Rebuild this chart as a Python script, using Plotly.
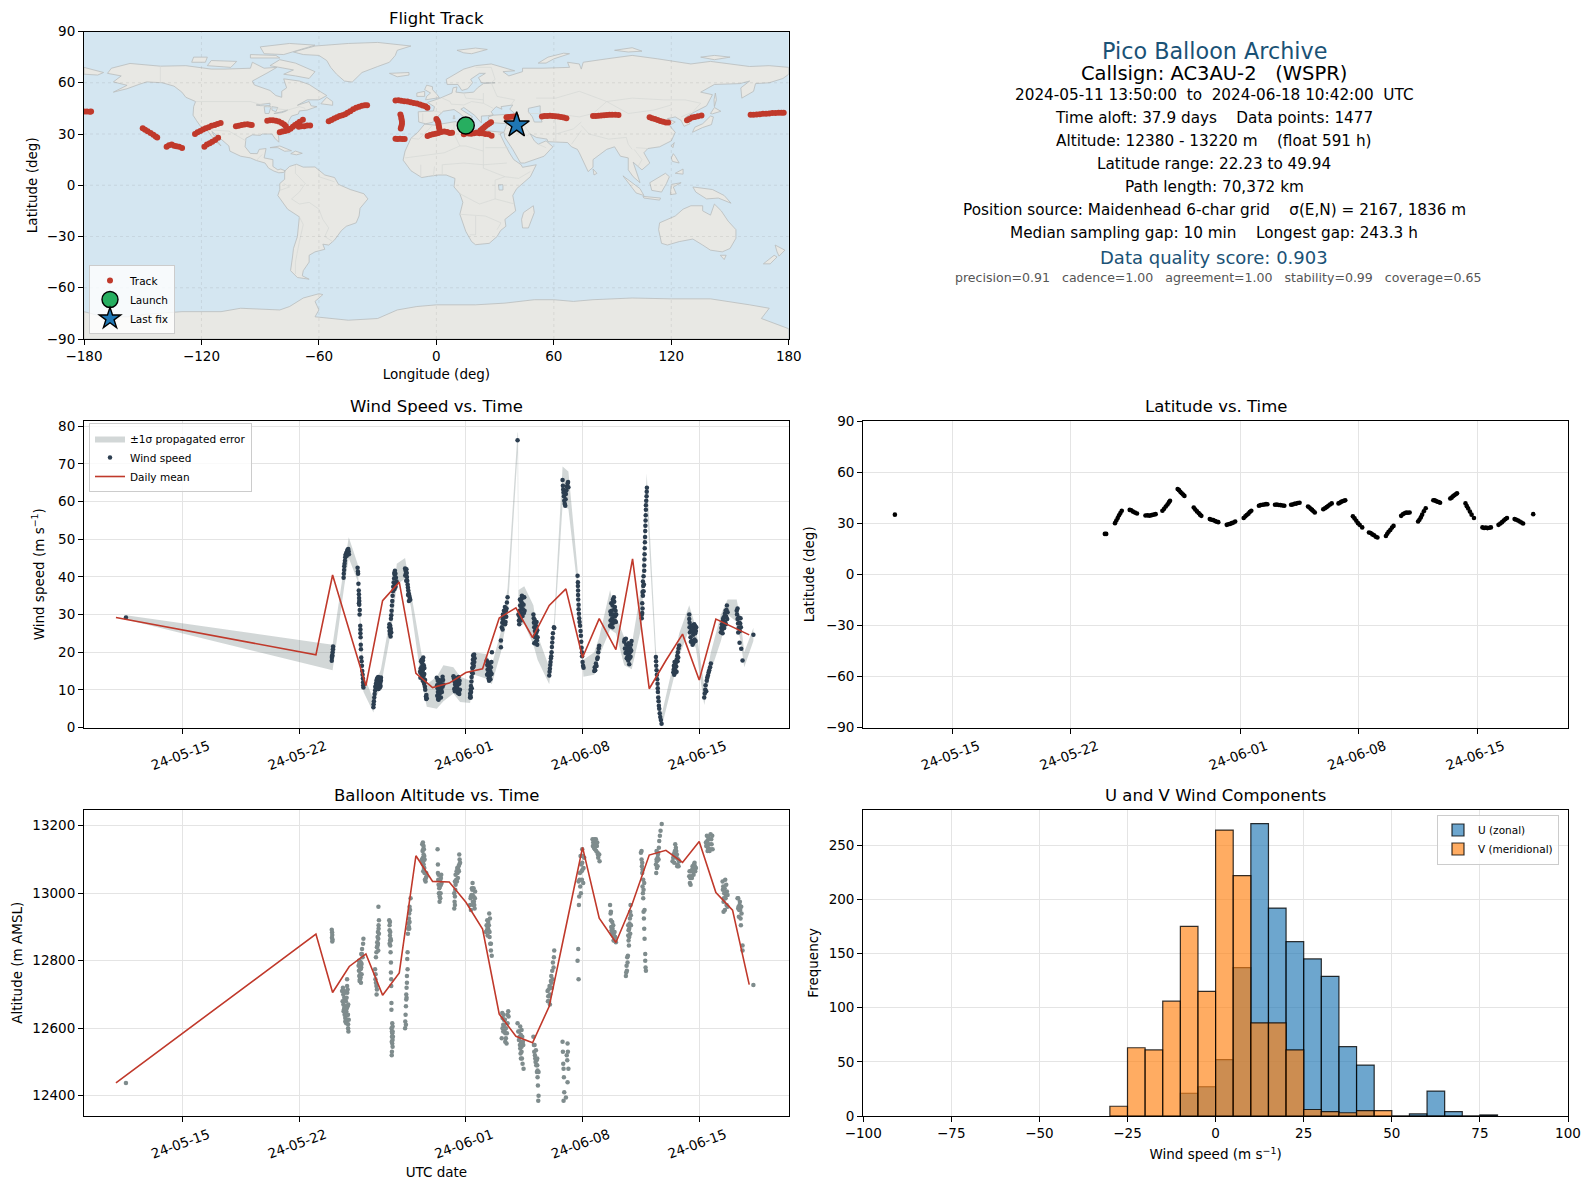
import pandas as pd
import plotly.graph_objects as go

# ---------- layout constants (px in a 1590x1189 page) ----------
W, H = 1590, 1189
COL = [(84.0, 788.8), (863.2, 1568.0)]
ROW = [(31.5, 339.0), (421.0, 727.5), (809.5, 1116.0)]
BASE = pd.Timestamp("2024-05-01")

# ---------- text ----------
panel_titles = ["Flight Track", "Wind Speed vs. Time", "Latitude vs. Time",
                "Balloon Altitude vs. Time", "U and V Wind Components"]
info_lines = [
    ("Pico Balloon Archive", 22.3, "#1a5276"),
    ("Callsign: AC3AU-2   (WSPR)", 19.5, "#000000"),
    ("2024-05-11 13:50:00  to  2024-06-18 10:42:00  UTC", 15.25, "#000000"),
    ("Time aloft: 37.9 days    Data points: 1477", 15.25, "#000000"),
    ("Altitude: 12380 - 13220 m    (float 591 h)", 15.25, "#000000"),
    ("Latitude range: 22.23 to 49.94", 15.25, "#000000"),
    ("Path length: 70,372 km", 15.25, "#000000"),
    ("Position source: Maidenhead 6-char grid    σ(E,N) = 2167, 1836 m", 15.25, "#000000"),
    ("Median sampling gap: 10 min    Longest gap: 243.3 h", 15.25, "#000000"),
    ("Data quality score: 0.903", 18, "#1a5276"),
    ("precision=0.91   cadence=1.00   agreement=1.00   stability=0.99   coverage=0.65", 12.55, "#555555"),
]
info_y = [51, 73.5, 95, 118, 141, 164, 187, 210, 233, 257, 278]
info_x = [1214, 1214, 1214, 1214, 1214, 1214, 1214, 1214, 1214, 1214, 1218]

date_ticks = ["2024-05-15", "2024-05-22", "2024-06-01", "2024-06-08", "2024-06-15"]
date_labels = ["24-05-15", "24-05-22", "24-06-01", "24-06-08", "24-06-15"]
lon_ticks = [-180, -120, -60, 0, 60, 120, 180]
lat_ticks = [-90, -60, -30, 0, 30, 60, 90]

# ---------- map outlines (lon, lat) ----------
north_america = [(-166,68.5),(-156.5,71.3),(-141,69.7),(-128,70),(-115,68),(-108,68),(-95,68.5),(-94,72),(-88,68.5),(-81.5,69),(-86,66),(-94,61),(-93,58.7),(-85,55.5),(-82,52.5),(-79,51.5),(-79,55),(-76.5,57),(-78,62.3),(-70,61),(-65,59),(-61,56),(-56,52.5),(-60,50),(-66,50),(-71,46.8),(-65,49),(-64,46.5),(-61,46),(-66,44),(-70,43.5),(-70.5,41.7),(-74,40.5),(-75.5,37.5),(-76,35),(-81,32),(-80.5,27),(-80.5,25.2),(-82.5,27.5),(-84,30),(-89,30),(-90,29.2),(-94,29.5),(-97.3,27.5),(-97.7,22.5),(-95,18.6),(-91.5,18.5),(-90.5,21),(-87,21.5),(-88,16),(-83.5,15),(-83.5,11),(-81,9),(-79.5,9.5),(-77.3,8.5),(-78,7.5),(-80.5,7.3),(-83,8.3),(-85.7,10),(-87.5,13),(-92,14.5),(-95,16),(-100,17),(-105.5,20),(-106,23),(-109,26),(-112.5,29.5),(-114.7,31.5),(-112.5,27),(-110,23),(-112,25),(-115,29),(-117.3,32.5),(-120.5,34.5),(-122.5,37.8),(-124.3,41),(-124,46),(-123,49),(-128,51.5),(-130,54.5),(-134,58),(-140,60),(-148,60.5),(-152,59),(-158,56.5),(-165,54.5),(-158,58.5),(-165,60.5),(-161,64),(-168,65.5)]
south_america = [(-77.3,8.5),(-75,11),(-71.5,12.3),(-68,10.6),(-62,10.7),(-57,6),(-52,4.5),(-50,0.5),(-44,-2.5),(-37,-5),(-35,-8),(-39,-13.5),(-39.5,-18),(-41,-22),(-46,-24),(-48.5,-26.5),(-52,-32),(-55,-35),(-58,-34.5),(-57,-37.5),(-62,-39),(-65,-41),(-65,-45),(-68,-50),(-68.5,-53),(-65,-55),(-71,-54),(-74.5,-50),(-73.5,-42),(-73,-37),(-71,-30),(-70,-18.5),(-76,-14),(-81,-6),(-80,-2.5),(-80,1),(-77.5,3.5),(-77.5,7)]
africa = [(-6,35.8),(-1,35.2),(10,37.3),(11,33.5),(15,32.4),(20,30.5),(20,32.8),(25,32),(32,31.2),(34.3,31),(32.5,30),(35,24),(37.3,19),(39.5,15),(43.3,12),(44,10.5),(51,12),(48,5),(41,-2),(39,-6),(40.5,-15),(35,-20),(35.5,-24),(32.8,-26.5),(31,-30),(27,-34),(20,-34.8),(18,-33),(15,-27),(12,-17),(13.5,-10),(12,-5),(9,-1),(9.5,4),(5,6),(1,6),(-4,5.2),(-7.5,4.5),(-13,8.5),(-17,14.7),(-16,20),(-13,27.5),(-9.5,31)]
eurasia = [(-9,37),(-9.3,43),(-1.5,43.5),(-1,46),(-4.5,48.5),(1.5,50.8),(8,54),(8.5,57),(10.5,57.5),(10,54.5),(14,54),(19,54.5),(21,57),(24,59.5),(30,60),(23,60),(21.5,63),(25,65.5),(22,65.5),(17.5,62),(18.5,60),(16,56.5),(13,55.5),(11,59),(5.5,59),(5,62),(14,68),(20,70),(28,71),(40,67),(34,66.5),(37,64),(44,66.5),(44,68.5),(54,68.5),(68,69),(67,72),(73,71),(74,68),(75,72),(87,74),(100,76),(113,74),(130,71),(140,72.5),(160,69.5),(170,70),(180,69),(180,65),(177,62.5),(170,60),(163,59.5),(162,55),(156,51),(155.5,57),(160,61),(155,59.5),(142,59),(135,54.5),(141,53),(138,46.5),(132,43),(127.5,40),(129.5,36),(126.5,34.5),(125,38),(122,40),(118,39),(122,37),(119,35),(122,31),(120,26),(114,22.5),(108,21.5),(106,19),(109,13),(105,9),(100.5,13.5),(103,5),(104,1.5),(100.5,5),(98,9),(98,16),(94,17),(91,22.5),(87,21),(80,15),(80,10.5),(77.5,8),(73,19),(72,21),(69,22.5),(67,25),(57,25.5),(56.5,27),(51,28),(48,30),(50,26),(52,24),(56,26),(59.5,22.5),(55,17),(45,13),(43,13),(39,21),(35,28),(34.5,31),(36,36),(30,36.5),(27,37),(26.5,40),(29,41),(36,41.5),(41,41),(37.5,44.5),(39,47),(33,46),(33.5,44.5),(30.5,46),(28,43),(29,41.2),(26,40.7),(23,40.5),(23,36.5),(19.5,41),(14,45.5),(12.5,44.5),(18.5,40),(16,38),(12,42),(9,44.3),(3.5,43.3),(0,39.5),(-2,36.8),(-5.5,36)]
chukotka = [(-180,69),(-170,66),(-173,64.5),(-180,65)]
antarctica = [(-180,-90),(-180,-74),(-170,-77),(-158,-77),(-148,-75.5),(-130,-74),(-110,-74),(-100,-72),(-80,-73),(-75,-71),(-68,-66),(-60,-63.5),(-58,-64),(-62,-68),(-60,-73),(-62,-77),(-45,-79),(-30,-78),(-20,-73),(-10,-71),(0,-70),(20,-70),(35,-69),(50,-67),(60,-67),(70,-68),(80,-67),(100,-66),(120,-66.5),(140,-66.5),(160,-70),(170,-72),(166,-78),(180,-84),(180,-90)]
australia = [(114,-22),(122,-18),(126,-14),(130,-12),(136,-12),(136,-15),(140,-17.5),(142,-11),(145.5,-15),(149,-21),(153,-26),(153,-31),(150,-37),(146,-39),(140,-38),(136,-35),(131,-31.5),(124,-33),(118,-35),(115,-34),(113.5,-26)]
arctic_lands = [
    [(-73,78),(-62,81.5),(-45,83),(-30,83.6),(-13,81.5),(-20,79),(-21,76),(-24,72),(-30,69.5),(-38,66),(-43,60.4),(-47,61),(-51,65),(-54,69),(-56,73),(-60,76),(-68,76.5)],
    [(-80,73.5),(-72,71.5),(-62,66.5),(-65,62.5),(-72,64),(-78,65),(-73,67.5),(-85,70)],
    [(-117,70),(-105,69),(-102,72.5),(-115,73)],
    [(-88,77),(-78,76.5),(-62,82),(-75,83),(-90,81)],
    [(-125,72),(-118,72),(-117,75),(-124,75)],
    [(-95,74.5),(-80,74.5),(-82,76),(-95,76.5)],
    [(-24,65.5),(-14,66),(-14,64.5),(-20,63.5)],
    [(10.5,79),(20,80.3),(26,79.5),(18,77),(14,77.5)],
    [(52,71.5),(56,71.5),(60,74),(68,77),(65,77.3),(57,75)],
    [(91,79),(100,80.5),(105,78.5),(98,78)],
    [(135,75),(142,76),(150,75),(142,73.5)],
]
islands = [
    [(-59,47.7),(-53,46.8),(-53,49),(-56,51.5)],
    [(-85,22),(-80,23),(-74,20.2),(-77.5,19.9),(-81,22)],
    [(-74.4,18.5),(-72,20),(-68.5,18.7),(-71.5,17.8)],
    [(-5.5,50),(1.5,51.3),(0,53.5),(-2,56),(-2,57.7),(-5,58.6),(-6,56),(-3,54),(-5,52)],
    [(-10,52),(-6,52),(-6,55),(-10,54)],
    [(49.5,-12),(50,-16),(47,-25),(44,-25),(43.5,-20),(44.5,-16)],
    [(80,9.5),(82,7),(80.5,6)],
    [(130.8,31),(132,34),(136,36),(140,40.5),(141.5,40),(140.5,35.5),(136,33.8)],
    [(140,42),(142,45.5),(145.3,43.3),(141,41.8)],
    [(142,46),(143,50),(142.5,54),(141.8,50)],
    [(120,23),(121.5,25),(120.8,22)],
    [(120,16),(121,18.5),(122,17),(124,13),(120.5,14)],
    [(122,7),(126,9.5),(126,6.5)],
    [(109,1.5),(117,7),(119,5),(117.5,1),(115,-4),(110,-3)],
    [(95.3,5.5),(104,-2),(106,-6),(102,-4.5)],
    [(105.5,-6.5),(114.5,-7.5),(114,-8.7),(106,-7.5)],
    [(119.5,-5.5),(120,0.5),(125,1.5),(121,-1),(122.5,-5)],
    [(131,-1),(141,-2.5),(147,-6),(150.5,-10.5),(144,-7.5),(138,-8),(132.5,-4)],
    [(145,-41),(148,-41),(147,-43.5)],
    [(173,-35),(178,-38),(175,-41.5),(174,-39)],
    [(172.5,-41),(174,-42),(170.5,-46),(167,-46)],
    [(9,41),(9.5,39),(8.5,39)],
    [(12.5,38),(15.5,38),(15,36.7)],
]
inland_water = [
    [(47,45),(53,46.5),(53,40),(54,37),(50,37),(49,40),(47,43)],
    [(-92,47),(-85,48),(-85,46.6),(-90,46.6)],
    [(-88,46),(-84.5,46),(-85.5,42),(-87.5,42)],
    [(-84,46),(-81,45.5),(-82,43),(-84,44)],
    [(-83,42),(-79,43),(-76,44),(-77,43.3),(-79,42.5)],
    [(31.7,0.3),(34,0.3),(34,-2.8),(32,-2.8)],
]
borders = [
    [(-141,69.7),(-141,60)], [(-123,49),(-95,49),(-83,45),(-76,44),(-70,46),(-67,45)],
    [(-117,32.5),(-106,31.7),(-97.3,26)], [(-92,14.5),(-89,18)],
    [(-72,12),(-72,7),(-67,1),(-70,-4),(-74,-8),(-70,-11),(-65,-10),(-60,-14),(-58,-20),(-55,-25),(-57,-30),(-53,-33)],
    [(-70,-18.5),(-68,-23),(-70,-33),(-72,-45),(-72,-52)], [(-80,-3),(-75,-1),(-78,1)], [(-60,8),(-60,5),(-52,2)],
    [(-2,35),(-9,27),(-13,27.5)], [(9,37),(9,30),(12,23),(15,23),(24,20),(24,30)], [(-16,16),(4,19),(12,23)],
    [(25,22),(37,22)], [(24,20),(24,10),(35,5),(42,4),(48,8)], [(3,6),(3,12),(14,13),(24,12),(36,13)],
    [(12,-5),(22,-11),(30,-8),(40,-11)], [(12,-17),(25,-18),(33,-22),(31,-26)], [(20,-18),(20,-29),(17,-29)],
    [(30,-8),(30,3),(35,5)], [(-8,5),(-8,12)], [(-1.5,5),(-1,11)],
    [(-1.5,43.5),(3,42.5)], [(-7,42),(-7,37)], [(3,51),(7,49),(7.5,47.5),(14,47),(18,49),(24,48),(29,45)],
    [(14,54),(15,51),(24,50)], [(24,54),(24,48)], [(28,60),(31,52),(40,50),(38,47)], [(20,69),(28,69),(30,62),(28,60)],
    [(47,42),(60,42),(73,40),(80,42),(87,49),(100,51),(116,50),(127,50),(135,48),(131,43)], [(51,51),(61,51),(73,55),(87,49)],
    [(60,42),(61,35),(61,25)], [(44,37),(46,33),(48,30)], [(36,33),(42,37),(44,37)], [(39,32),(47,29)], [(52,24),(56,22)],
    [(61,30),(70,33),(74,37)], [(74,35),(78,30),(88,27),(97,28),(98,24),(100,21)], [(69,24),(74,32)], [(102,22),(108,21.5)], [(101,21),(105,15),(103,11)],
    [(87,49),(98,42),(111,44),(120,47)], [(125,40),(130,42.5)],
]

# ---------- track fixes (lon, lat) ----------
track_points = [(-180,43.2),(-178.5,43.1),(-177,43),(-176.4,43.1),
(-150,33.4),(-148.8,32.5),(-147.5,31.6),(-146,30.6),(-144.6,29.6),(-143.4,28.6),(-142.6,28),
(-137.8,22.5),(-136.6,23.4),(-135.2,23.8),(-134,23.1),(-132.8,22.9),(-131.4,22.6),(-129.9,21.8),
(-118.5,22.5),(-117.2,23.8),(-115.8,24.6),(-114.5,25.4),(-113,26.5),(-111.5,27.8),
(-123.3,30),(-122,31),(-120.6,31.8),(-119.2,32.6),(-117.8,33.4),(-116.3,34),(-114.8,34.8),(-113.2,35.3),(-111.8,35.9),(-110.2,36.4),
(-102.4,34.5),(-101,34.8),(-99.5,35.2),(-98,35.6),(-96.5,35.7),(-95.2,35.4),(-94.3,35.2),
(-86.4,37.8),(-85,38),(-83.5,38),(-82,37.8),(-80.5,37.3),(-79,36.5),(-77.8,35.6),(-76.9,34.6),
(-80,31),(-78.6,31.4),(-77.2,31.8),(-75.8,32.2),(-74.5,33),(-73.3,34.2),(-72.2,35.2),(-71,36.2),(-69.8,37.2),(-68.2,38.3),
(-70.3,34.2),(-69,34.6),(-67.5,34.5),(-66,35),(-64.5,35),
(-55,37.4),(-53.6,38.2),(-52.2,39),(-50.8,39.8),(-49.4,40.5),(-48,41),(-46.6,41.6),(-45.4,42.4),(-44,43.3),
(-42.5,44.5),(-41,45.4),(-39.5,46),(-38,46.6),(-36.6,46.8),(-35.4,46.9),
(-20.9,49.6),(-19.4,49.7),(-18,49.5),(-16.4,49.2),(-14.8,49),(-13.2,48.6),(-11.6,48.2),(-10,47.8),(-8.4,47.2),(-7,46.7),(-5.6,46.2),(-4.6,45.4),
(-18.4,41.4),(-18,40),(-17.8,38.6),(-17.6,37.2),(-17.6,35.8),(-17.9,34.5),(-18.2,33.2),
(-20.9,27.2),(-19.8,27.1),(-18.6,27.2),(-17.4,27),(-16.2,27.1),
(0,38.8),(0.6,37.8),(1,36.6),(1.1,35.4),(1.3,34.2),(1.5,33.1),
(-4.5,28.9),(-3.2,29.4),(-1.8,29.9),(-0.4,30.2),(1,30.6),(2.5,31.2),(4,31.4),(5.5,31.1),(6.8,30.6),(8,30.8),
(14,29.9),(15.2,30.4),(16.5,30.3),(17.8,30.1),(19.2,30.4),(20.5,30.8),(22,30.5),(23.4,30.4),(25,30),(26.6,29.8),(28.2,29),
(22.5,32),(23.4,32.9),(24.2,33.6),(25,34.6),(26,35.4),(27,36.2),(27.9,36.9),
(35.8,39.8),(37,39.9),(38.2,40.1),(39.4,40.3),(40.6,40.2),
(53.9,40.3),(55.2,40.5),(56.6,40.6),(58,40.7),(59.4,40.6),(60.8,40.4),(62.2,40.2),(63.6,40),(65,39.7),(66.4,39.2),
(80,40.6),(81.4,40.6),(82.8,40.7),(84.2,40.8),(85.6,41),(87,41.1),(88.4,41.2),(89.8,41.2),(91.4,41.3),(93,41.1),
(108.9,39.8),(110.2,39.2),(111.6,38.8),(113,38.2),(114.4,37.6),(115.8,37.2),(117.2,36.8),(118.4,36.7),
(128,38),(129.2,38.8),(130.6,39.6),(132,40),(133.6,40.4),(135.4,40.9),
(160.5,41.2),(162,41.3),(163.6,41.4),(165.2,41.6),(166.8,41.8),(168.4,41.9),(170,42),(171.6,42.3),(173.2,42.3),(174.8,42.4),(176.2,42.5),(177.4,42.4)]
launch_point = (15, 35)
last_fix_point = (41, 35.2)

# ---------- wind speed fixes (days since 1 May, m/s) ----------
wind_points = [(10.6,29.2),
(22.95,17.7),(22.96,18.5),(22.98,19.2),(23.0,20),(23.02,20.8),(23.03,21.5),(22.97,18.9),
(23.66,39.8),(23.67,40.8),(23.69,41.8),(23.7,42.8),(23.72,43.5),(23.74,44.3),(23.76,45.2),(23.78,45.8),(23.8,46),(23.83,46.4),(23.85,45.6),(23.87,46.8),(23.9,47.2),(23.92,46.5),(23.94,47.4),(23.96,46.8),(23.98,46),
(24.5,42.4),(24.52,41.4),(24.53,40.8),(24.55,38.2),(24.57,36.4),(24.58,35.4),(24.59,34.4),(24.6,33.6),(24.58,33),(24.6,32.6),(24.63,31.2),(24.62,30),(24.66,27),(24.67,26),(24.67,25),(24.68,24),(24.69,22),(24.7,20.8),(24.72,18.6),(24.74,17.6),(24.76,16.4),(24.78,15),(24.8,14),(24.82,13),(24.83,12),(24.84,11.2),(24.85,10.6),
(25.45,5.4),(25.46,6.2),(25.48,7),(25.5,8),(25.52,8.9),(25.55,9.8),(25.56,10.8),(25.6,11.6),(25.63,12.4),(25.66,12.9),(25.7,13.2),(25.72,11.2),(25.75,12),(25.78,13),(25.8,11.3),(25.83,12.6),(25.86,11.8),(25.88,11),(25.9,12.4),(25.9,13.3),
(26.4,26.6),(26.42,25.6),(26.44,24.8),(26.46,25.8),(26.48,24.2),(26.5,28.9),(26.52,29.8),(26.54,31),(26.56,32.4),(26.58,33.6),(26.6,35),(26.62,36.2),(26.64,37.4),(26.66,38.5),(26.69,39.6),(26.72,40.6),(26.74,41.6),(26.77,40.8),(26.8,39.8),(26.84,38.8),
(27.35,42.2),(27.38,41.6),(27.4,40.8),(27.43,42),(27.46,40),(27.48,39),(27.5,38),(27.52,37.2),(27.54,36.4),(27.57,35.6),(27.6,35),(27.63,34.4),(27.66,33.9),
(28.25,14.8),(28.28,15.6),(28.3,14.4),(28.33,16),(28.36,13.4),(28.38,17),(28.4,15),(28.42,17.8),(28.44,18.6),(28.46,13.8),(28.48,12.8),(28.5,14.2),(28.52,12),(28.54,10.8),(28.56,10),(28.62,7.6),(28.65,7.8),
(29.25,13.2),(29.27,11.2),(29.3,10.4),(29.32,9.4),(29.34,8.6),(29.36,7.4),(29.38,10),(29.4,9),(29.44,12),(29.46,10.8),(29.5,8),(29.54,11.5),(29.58,12.6),(29.6,13.5),(29.63,12.6),
(30.25,13.6),(30.28,13),(30.32,12.2),(30.35,11.4),(30.38,10.6),(30.42,12.6),(30.46,10.2),(30.5,9.2),(30.54,11.6),(30.58,9.2),(30.6,8.9),(30.64,10),
(31.25,8),(31.26,9),(31.27,8.4),(31.28,10),(31.3,11),(31.33,12.2),(31.34,13.4),(31.36,14.6),(31.38,15.8),(31.4,17),(31.42,18),(31.44,19.2),(31.47,16.4),(31.5,17.4),(31.52,18.4),
(32.25,17.8),(32.28,16.6),(32.3,15.4),(32.33,14.4),(32.36,13),(32.38,15.6),(32.42,13.6),(32.46,15),(32.5,16),(32.54,14.2),(32.56,20),
(33.1,21.3),(33.1,23.1),(33.15,26.6),(33.18,27.8),(33.2,28.8),(33.22,30),(33.25,29),(33.28,31),(33.31,30),(33.34,32),(33.38,28),(33.42,29.4),(33.46,33.2),(33.5,34.6),
(34.1,76.3),
(34.15,30),(34.18,28.4),(34.2,29.6),(34.22,31),(34.25,32.4),(34.28,30.4),(34.3,33.6),(34.33,31.8),(34.36,35),(34.38,33),(34.42,31.4),(34.46,32.6),(34.5,34.6),
(35.05,30),(35.07,29),(35.08,27.8),(35.1,26.6),(35.14,25.6),(35.18,24.6),(35.2,27),(35.23,25.2),(35.26,23.2),(35.28,22),(35.3,24),(35.1,22.4),
(36.0,13.8),(36.02,14.8),(36.04,15.6),(36.06,16.6),(36.08,17.4),(36.1,18.4),(36.12,18.9),(36.14,20),(36.16,21.4),(36.18,22.6),(36.2,23.8),(36.22,25),(36.28,26.6),(36.3,26.4),
(36.8,65.7),(36.82,64.2),(36.84,63.2),(36.86,62.4),(36.88,61.4),(36.9,60.2),(36.93,59.4),(36.96,58.9),(36.98,60.6),(37.0,62),(37.03,63),(37.06,64),(37.1,64.8),(37.13,65.2),(37.15,63.8),
(37.7,40.3),(37.72,38.6),(37.72,37.6),(37.73,36.4),(37.73,35.2),(37.74,34),(37.76,32.6),(37.76,31.4),(37.78,30.2),(37.8,29),(37.82,28),(37.85,27),(37.88,25.6),(37.9,24.4),(37.92,22.8),(37.94,21.2),(37.96,20),(37.97,18.9),(38.0,17.4),(38.03,16.4),(38.06,15.9),
(38.7,15),(38.73,16),(38.76,15.2),(38.8,17),(38.84,16.3),(38.88,18.2),(38.91,18.6),(38.94,20),(38.97,21),(39.0,21.7),
(39.65,27),(39.68,28.4),(39.7,30),(39.73,27.4),(39.75,31),(39.78,29),(39.8,32.4),(39.83,30),(39.86,33.6),(39.88,34.6),(39.9,31.4),(39.93,28.4),(39.96,29.6),(40.0,28),
(40.5,22.8),(40.54,21),(40.58,19.8),(40.62,22),(40.66,20.6),(40.7,18.8),(40.74,17.8),(40.78,19.6),(40.82,18.4),(40.86,21),(40.9,22),(40.94,23),
(41.55,29),(41.58,30.4),(41.6,31.6),(41.6,36),(41.62,35),(41.64,37.6),(41.66,40.2),(41.68,38),(41.7,41.6),(41.7,43),(41.71,44.6),(41.72,46),(41.73,47.6),(41.74,49.2),(41.75,50.6),(41.76,52.2),(41.77,53.6),(41.78,55),(41.79,56.4),(41.8,57.8),(41.8,59),(41.82,60.2),(41.84,61.4),(41.85,62.6),(41.86,63.7),
(42.4,18.7),(42.41,17.6),(42.42,16.4),(42.44,15.2),(42.46,14),(42.48,12.8),(42.5,11.6),(42.51,10.4),(42.52,9.4),(42.54,8),(42.56,7),(42.58,5.8),(42.6,5),(42.63,3.8),(42.66,2.8),(42.7,2),(42.74,1),
(43.45,14.7),(43.47,15.4),(43.5,14),(43.53,16),(43.56,15.2),(43.58,17),(43.62,16.2),(43.65,18),(43.68,19),(43.72,20),(43.76,21),(43.8,21.8),
(44.4,30),(44.4,28.8),(44.42,27.8),(44.42,26.6),(44.44,25.2),(44.48,24),(44.52,25.8),(44.56,23),(44.6,22),(44.64,24.6),(44.68,26),(44.72,23.4),(44.76,25),(44.8,25.6),
(45.3,8),(45.33,9),(45.36,10),(45.38,11.2),(45.42,9.6),(45.45,12.4),(45.48,13.2),(45.52,13.8),(45.56,14.6),(45.6,15.2),(45.65,16),(45.7,17),
(46.3,25.3),(46.33,26.4),(46.36,27.4),(46.38,26),(46.42,28.4),(46.46,27.2),(46.5,29.4),(46.54,30.2),(46.58,31),(46.62,29.4),(46.66,32.4),(46.7,30.6),
(47.25,31),(47.27,30),(47.3,28.8),(47.33,27.6),(47.36,26.4),(47.4,27.8),(47.44,25.6),(47.48,29),(47.5,26.6),(47.42,22.5),(47.52,20.9),(47.6,17.8),
(48.25,24.6)]

# second pass of fixes read inside the denser clumps
wind_extra = [(25.62,10.4),(25.68,11.8),(25.74,13.4),(25.8,12.8),(25.84,10.6),(25.88,13),(25.7,10.8),(25.76,10.2),
(26.41,27.4),(26.46,27),(26.49,26.2),(26.52,25.2),(26.75,38),(26.78,37.4),(26.7,41),(26.8,38.4),(26.72,36.8),
(27.36,40.4),(27.42,39),(27.45,41),(27.53,35.2),(27.58,33.6),
(28.27,13.2),(28.31,17.6),(28.35,18),(28.39,14),(28.43,15.5),(28.47,16.5),(28.51,15.8),(28.37,16),(28.41,12.4),(28.55,12.6),(28.49,11.6),(28.6,8.2),(28.63,8.6),
(29.28,8.4),(29.31,12.4),(29.35,11.4),(29.39,12.6),(29.42,8),(29.47,9.2),(29.52,10),(29.56,9.4),(29.6,10.8),(29.65,11.4),(29.33,7.6),(29.37,8.2),
(30.3,10.2),(30.34,9.6),(30.4,11.8),(30.44,13),(30.48,11),(30.52,12.6),(30.56,13.4),(30.6,11.6),(30.62,12.4),(30.36,13.2),(30.5,10.2),
(31.29,8),(31.31,9.4),(31.35,10.4),(31.43,16),(31.46,18.8),(31.49,19.4),(31.41,14.4),
(32.27,14),(32.31,17.4),(32.35,16.4),(32.39,12.4),(32.43,17),(32.47,12.8),(32.51,14.4),(32.37,14.6),(32.53,17.4),(32.33,16.8),
(33.2,26),(33.26,27.6),(33.3,28),(33.35,27.4),(33.4,31),(33.44,31.6),
(34.2,27.4),(34.26,29),(34.3,28.4),(34.34,34.2),(34.4,29.6),(34.44,34.6),(34.48,30.4),(34.24,34),(34.52,31),
(35.12,28.6),(35.16,22.4),(35.2,22.8),(35.24,28),(35.28,25.8),(35.15,24),
(39.67,30.8),(39.72,33),(39.76,28.4),(39.82,34),(39.85,27.8),(39.9,33.4),(39.94,32),(39.98,31),(40.02,30),(39.7,26.8),(39.8,26.6),
(40.52,23.4),(40.6,23.6),(40.65,18.4),(40.72,21.4),(40.76,22.4),(40.8,16.8),(40.84,20),(40.88,18.8),(40.92,20.4),
(41.58,33),(41.62,38.8),(41.56,30),(41.66,36.2),
(43.52,17.4),(43.58,14.6),(43.64,14.8),(43.7,17.6),(43.74,18.6),(43.48,16.4),
(44.5,22.8),(44.54,27),(44.6,25.6),(44.64,22.4),(44.7,27.4),(44.74,27),(44.78,23),(44.82,26.6),(44.58,26.8),(44.66,27.2),
(46.4,25),(46.44,29),(46.5,26.4),(46.56,28),(46.6,27.4),(46.64,31.2),(46.68,28.8),
(47.3,31.6),(47.34,25.2),(47.38,29.2),(47.46,27.6)]

# error band: (day, low, high)
wind_band = [(10.6,28.7,29.8),(23.0,15.2,22),(23.7,37.5,43),(23.97,45,50.5),(24.5,39,43.5),(24.85,9.5,14),(25.45,4,7.5),(25.6,8,12),(25.9,11,15.5),
(26.4,23,28),(26.65,30,34),(26.85,38,43.5),(27.35,39.5,45),(27.7,32,36),(28.3,13,20),(28.65,5.5,11.5),(29.25,5,13.5),(29.65,7,16.5),(30.25,9,16),(30.65,6.8,13.5),
(31.25,6.5,12.5),(31.5,14,20),(32.2,13,19.5),(32.55,11.5,16.5),(33.1,20,25.5),(33.5,30,37),(34.1,73,78.5),(34.13,72,78),(34.16,27,36.5),(34.5,27.5,37.5),(35.05,22,32.5),(35.3,18,24.5),
(36.0,11.5,16),(36.3,25,29),(36.8,59,69.3),(37.15,58,68),(37.7,37,42),(38.05,13.5,18),(38.7,14,20),(39.0,19,24),(39.65,26,36.5),(40.0,25,29.5),(40.5,16.5,24),(40.95,15.5,22),
(41.55,27,38),(41.85,60,67.5),(42.4,16,21),(42.75,0.2,3.5),(43.45,12.5,17),(43.8,19,25),(44.4,26,32.5),(44.8,21,26.5),(45.3,6,11),(45.7,15,20),(46.3,23,30),(46.7,30,34),(47.25,28,34),(47.5,22.5,28),(47.7,16,20),(48.25,23,26.5)]

mean_days = [10,22,23,24,25,26,27,28,29,30,31,32,33,34,35,36,37,38,39,40,41,42,43,44,45,46,47,48]
wind_mean = [29.2,19.3,40.5,25.8,11.1,33.7,38.6,14.4,10.6,11.8,14.6,15.6,29.1,31.8,23.9,32.4,36.8,18.6,28.9,20.7,44.8,10.3,17.8,24.8,12.6,28.8,26.6,24.6]
alt_mean = [12438,12879,12706,12783,12820,12698,12764,13111,13035,13033,12973,12894,12642,12576,12557,12665,12900,13136,12926,12854,12971,13113,13127,13091,13153,13002,12950,12729]

# ---------- latitude fixes (days since 1 May, deg) ----------
lat_points = [(10.6,35),(23,23.7),(23.08,23.7),
(23.6,30),(23.68,31.5),(23.76,33),(23.84,34.6),(23.92,36),(24,37.3),
(24.47,37.8),(24.56,37.6),(24.66,36.8),(24.78,36.2),(24.9,35.7),
(25.4,34.5),(25.52,34.6),(25.64,34.4),(25.76,34.7),(25.88,35),(26,35.3),
(26.4,37.3),(26.5,38.4),(26.6,39.8),(26.7,41),(26.78,42.2),(26.85,43.1),
(27.3,50),(27.38,49.4),(27.46,48.4),(27.54,47.6),(27.62,46.8),(27.7,46),
(28.25,39.2),(28.34,38),(28.44,36.9),(28.54,36),(28.62,35),(28.7,34.3),
(29.2,32.4),(29.3,32),(29.4,31.8),(29.52,31.2),(29.62,30.8),(29.7,30.6),
(30.2,29),(30.3,29.4),(30.4,29.6),(30.5,30),(30.6,30.4),(30.7,31),
(31.2,33),(31.3,34),(31.38,34.8),(31.48,35.6),(31.56,36.6),(31.65,37.3),
(32.1,40.2),(32.2,40.6),(32.32,40.8),(32.42,41),(32.52,41.2),(32.6,41.1),
(33.05,40.8),(33.16,40.9),(33.28,40.7),(33.38,40.6),(33.5,40.4),(33.6,40.2),
(34,40.8),(34.1,41),(34.2,41.4),(34.3,41.5),(34.4,41.8),(34.5,42),
(35,39.8),(35.08,39.2),(35.16,38.4),(35.24,37.8),(35.32,37),(35.4,36.3),
(35.9,38.2),(36,38.8),(36.1,39.4),(36.2,40.2),(36.3,41),(36.4,41.6),
(36.8,41.6),(36.88,42),(36.96,42.6),(37.04,42.9),(37.12,43.2),(37.2,43.5),
(37.65,34),(37.75,32.8),(37.85,31.4),(37.95,30),(38.05,29),(38.2,27.5),
(38.6,24.5),(38.7,24.2),(38.8,23.4),(38.9,22.9),(39,22),(39.1,21.6),
(39.6,22.5),(39.68,23.8),(39.76,25),(39.86,26),(39.96,27.4),(40.05,28.4),
(40.5,34.3),(40.6,35.2),(40.7,35.8),(40.8,36.2),(40.9,36.1),(41,36.3),
(41.5,31),(41.58,32),(41.66,33.4),(41.74,35),(41.84,37),(41.95,38.8),
(42.4,43.5),(42.48,43.4),(42.56,43),(42.64,42.6),(42.72,42.4),(42.8,42),
(43.4,44.5),(43.48,45),(43.56,45.8),(43.64,46.4),(43.72,47),(43.8,47.5),
(44.3,41.6),(44.38,40),(44.46,38.6),(44.56,36.8),(44.66,35),(44.8,33),
(45.3,27.5),(45.4,27.2),(45.5,27.4),(45.6,27.1),(45.7,27.3),(45.8,27.5),
(46.25,29),(46.36,29.8),(46.46,30.6),(46.56,31.6),(46.66,32.4),(46.75,33),
(47.2,32.4),(47.3,32),(47.4,31.6),(47.5,31),(47.6,30.4),(47.7,29.8),
(48.3,35.3)]

# ---------- altitude fixes (days since 1 May, m AMSL) ----------
alt_points = [(10.6,12438),
(22.95,12892),(22.97,12884),(22.98,12876),(22.96,12868),(23,12862),(22.98,12857),
(23.57,12710),(23.6,12680),(23.64,12700),(23.65,12670),(23.68,12655),(23.7,12690),(23.72,12640),(23.75,12665),(23.76,12630),(23.8,12680),(23.82,12650),(23.85,12625),(23.87,12745),(23.87,12725),(23.88,12705),(23.9,12715),(23.9,12665),(23.92,12640),(23.93,12612),(23.93,12600),(23.95,12590),(23.97,12625),
(24.56,12785),(24.58,12770),(24.6,12755),(24.62,12800),(24.64,12745),(24.66,12790),(24.68,12775),(24.7,12735),(24.72,12820),(24.74,12760),(24.77,12835),(24.85,12865),(24.83,12850),(24.8,12810),
(25.55,12775),(25.57,12745),(25.6,12735),(25.63,12725),(25.66,12715),(25.6,12810),(25.63,12825),(25.66,12840),(25.68,12855),(25.7,12870),(25.72,12850),(25.74,12830),(25.76,12895),(25.76,12905),(25.78,12920),(25.75,12960),
(26.4,12920),(26.42,12905),(26.42,12890),(26.44,12875),(26.45,12860),(26.46,12845),(26.48,12825),(26.5,12795),(26.5,12765),(26.52,12745),(26.52,12725),(26.53,12675),(26.53,12655),(26.54,12600),(26.56,12590),(26.56,12575),(26.58,12555),(26.6,12545),(26.56,12530),(26.55,12520),(26.58,12615),(26.6,12605),
(27.35,12600),(27.36,12620),(27.38,12640),(27.4,12665),(27.42,12685),(27.42,12700),(27.44,12720),(27.46,12735),(27.46,12755),(27.48,12805),(27.5,12825),(27.52,12880),(27.54,12895),(27.56,12910),(27.58,12925),(27.6,12940),(27.62,12960),(27.68,12985),(27.65,12950),
(28.38,13145),(28.4,13125),(28.42,13105),(28.42,13085),(28.44,13065),(28.44,13095),(28.46,13140),(28.46,13115),(28.48,13130),(28.5,13075),(28.52,13060),(28.54,13040),(28.58,13035),(28.62,13060),(28.64,13050),
(29.3,13130),(29.32,13085),(29.32,13060),(29.34,13040),(29.36,13025),(29.38,13000),(29.4,13015),(29.42,12990),(29.42,12975),(29.46,13040),(29.5,13025),(29.52,13055),
(30.3,12955),(30.32,12975),(30.34,12990),(30.36,13010),(30.38,13025),(30.42,13040),(30.46,13035),(30.5,13060),(30.54,13070),(30.58,13065),(30.6,13085),(30.62,13100),(30.65,13090),
(31.25,12965),(31.28,12985),(31.3,12950),(31.34,12995),(31.38,13010),(31.42,12975),(31.46,12990),(31.5,12965),(31.52,12955),(31.55,13005),
(32.2,12885),(32.24,12905),(32.28,12920),(32.32,12895),(32.36,12890),(32.4,12940),(32.42,12870),(32.46,12850),(32.5,12830),(32.55,12815),
(33.15,12570),(33.18,12645),(33.2,12630),(33.24,12610),(33.28,12625),(33.32,12595),(33.36,12585),(33.4,12570),(33.44,12555),(33.5,12615),(33.54,12650),(33.56,12635),
(34.1,12615),(34.14,12590),(34.18,12565),(34.22,12575),(34.26,12540),(34.28,12525),(34.3,12560),(34.34,12545),(34.36,12510),(34.4,12495),(34.44,12550),(34.46,12480),
(35.05,12575),(35.08,12550),(35.1,12530),(35.14,12520),(35.18,12500),(35.22,12490),(35.26,12470),(35.3,12455),(35.32,12430),(35.34,12385),(35.36,12400),(35.36,12470),
(35.9,12710),(35.94,12695),(35.98,12680),(36.02,12725),(36.05,12700),(36.1,12740),(36.14,12735),(36.18,12770),(36.22,12795),(36.26,12780),(36.3,12830),(36.28,12810),
(36.8,12560),(36.82,12530),(36.84,12495),(36.86,12480),(36.88,12455),(36.9,12410),(36.86,12385),(37.0,12395),(37.05,12520),(37.08,12505),(37.1,12555),(37.12,12530),(37.15,12480),(37.1,12440),
(37.7,12800),(37.74,12835),(37.76,12745),(37.78,12965),(37.8,12990),(37.82,13040),(37.86,13020),(37.9,13000),(37.94,13065),(37.98,13090),(38.02,13110),(38.06,13075),(38.1,13105),
(38.6,13160),(38.64,13150),(38.7,13155),(38.74,13130),(38.8,13160),(38.86,13140),(38.9,13120),(38.94,13105),(39,13115),(39.02,13095),
(39.65,12965),(39.68,12940),(39.7,12920),(39.72,12900),(39.76,12880),(39.8,12895),(39.86,12860),(39.92,12885),(39.96,12870),(40,12855),
(40.6,12755),(40.62,12765),(40.64,12785),(40.68,12810),(40.72,12815),(40.74,12875),(40.76,12860),(40.78,12845),(40.8,12895),(40.84,12925),(40.86,12945),(40.88,12965),(40.9,12905),
(41.5,13120),(41.54,13100),(41.56,13080),(41.58,13060),(41.6,13020),(41.62,13000),(41.64,12985),(41.66,12945),(41.68,12925),(41.7,12895),(41.72,12865),(41.76,12800),(41.78,12780),(41.8,12770),(41.76,12820),
(42.4,13085),(42.44,13100),(42.46,13075),(42.5,13105),(42.54,13120),(42.58,13135),(42.6,13155),(42.64,13170),(42.68,13185),(42.75,13205),
(43.4,13095),(43.46,13115),(43.5,13090),(43.54,13125),(43.6,13135),(43.64,13105),(43.68,13080),(43.74,13100),(43.8,13095),
(44.4,13050),(44.44,13030),(44.5,13065),(44.56,13045),(44.6,13080),(44.66,13055),(44.72,13090),(44.76,13065),(44.8,13075),
(45.4,13150),(45.46,13170),(45.52,13135),(45.58,13160),(45.62,13125),(45.68,13175),(45.74,13145),(45.8,13130),
(46.4,13035),(46.42,13010),(46.46,12975),(46.5,13000),(46.54,12950),(46.58,12985),(46.62,13025),(46.66,13005),(46.7,12960),
(47.3,12985),(47.34,12955),(47.38,12930),(47.42,12965),(47.46,12950),(47.5,12905),(47.54,12940),(47.6,12845),(47.6,12830),
(48.25,12728)]

alt_extra = [(23.62,12720),(23.66,12650),(23.7,12660),(23.74,12685),(23.78,12640),(23.8,12655),(23.84,12690),(23.86,12660),(23.9,12640),(23.94,12670),(23.88,12625),(23.68,12710),(23.72,12705),(23.76,12620),(23.82,12615),
(24.58,12800),(24.6,12790),(24.64,12775),(24.66,12760),(24.7,12795),(24.72,12780),(24.74,12790),(24.68,12750),(24.62,12740),(24.76,12820),
(25.58,12760),(25.64,12700),(25.7,12845),(25.74,12865),(25.72,12885),(25.78,12880),
(26.44,12915),(26.46,12885),(26.48,12865),(26.42,12850),(26.5,12860),(26.58,12585),(26.6,12565),(26.62,12575),(26.55,12560),(26.6,12590),
(27.4,12610),(27.44,12690),(27.5,12775),(27.58,12900),(27.62,12915),(27.6,12895),
(28.36,13100),(28.4,13095),(28.44,13130),(28.48,13075),(28.5,13110),(28.42,13150),(28.52,13100),(28.46,13085),(28.6,13045),
(29.36,13055),(29.4,13040),(29.44,13020),(29.48,13000),(29.5,13045),(29.46,12985),(29.54,13030),
(30.34,13035),(30.38,13055),(30.44,13065),(30.48,13075),(30.52,13045),(30.56,13080),(30.6,13115),(30.3,13000),(30.34,12965),
(31.3,12990),(31.36,13015),(31.4,12995),(31.44,12965),(31.48,12975),(31.54,12985),(31.4,13030),(31.46,13015),
(32.26,12890),(32.3,12875),(32.34,12915),(32.38,12905),(32.42,12885),(32.44,12925),(32.5,12850),(32.3,12900),
(33.2,12600),(33.26,12640),(33.3,12610),(33.34,12625),(33.4,12600),(33.46,12585),(33.5,12640),(33.24,12590),(33.36,12560),
(34.2,12590),(34.26,12605),(34.3,12580),(34.34,12595),(34.38,12575),(34.3,12510),(34.24,12550),(34.34,12530),(34.42,12560),
(35.12,12550),(35.16,12510),(35.2,12535),(35.24,12505),(35.28,12490),(35.3,12475),(35.28,12510),
(35.92,12680),(35.96,12715),(36,12695),(36.04,12670),(36.08,12720),(36.12,12755),(36.16,12720),(36.2,12745),
(37.76,13035),(37.84,13060),(37.92,13085),(37.96,13040),(38,13070),(38.04,13030),(37.88,13110),(37.98,13130),
(38.62,13140),(38.68,13135),(38.72,13160),(38.78,13145),(38.82,13125),(38.88,13150),(38.92,13115),
(39.7,12945),(39.74,12890),(39.78,12915),(39.82,12875),(39.84,12905),(39.88,12875),(39.94,12860),
(40.66,12770),(40.7,12795),(40.76,12890),(40.8,12870),(40.82,12910),(40.86,12880),(40.88,12905),(40.9,12935),(40.74,12905),
(41.54,13125),(41.58,13090),(41.6,13070),(41.66,13010),(41.7,13030),(41.64,13040),(41.72,12950),
(42.42,13060),(42.46,13095),(42.5,13080),(42.52,13115),(42.56,13100),(42.44,13125),
(43.44,13105),(43.52,13120),(43.58,13110),(43.62,13125),(43.66,13115),(43.7,13085),(43.76,13080),(43.56,13145),
(44.42,13065),(44.46,13045),(44.52,13050),(44.58,13070),(44.62,13065),(44.68,13085),(44.74,13080),(44.48,13025),
(45.42,13140),(45.48,13155),(45.54,13165),(45.6,13145),(45.66,13130),(45.72,13160),(45.78,13170),(45.5,13125),
(46.44,13020),(46.48,12985),(46.52,13015),(46.56,13040),(46.6,12995),(46.64,12965),(46.7,12995),(46.46,12945),
(47.34,12985),(47.4,12950),(47.44,12975),(47.48,12925),(47.52,12960),(47.36,12960)]

# ---------- wind component histograms (5 m/s bins) ----------
bin_left = list(range(-30, 80, 5))
u_counts = [0,0,0,0,21,27,52,137,270,192,161,145,129,64,47,0,0,2,23,4,0,1]
v_counts = [9,63,61,106,175,115,264,222,86,86,61,6,4,3,5,5,0,0,0,0,0,0]

# ---------- colours ----------
OCEAN = "#d4e6f1"
LAND = "#e8e8e4"
COAST = "#b9bdbd"
RED = "#c0392b"
NAVY = "#2c3e50"
GREY = "#7f8c8d"
GRID = "#e4e4e4"


def days(values):
    return [BASE + pd.Timedelta(days=v) for v in values]


def xy(points):
    return [p[0] for p in points], [p[1] for p in points]


def polys_trace(polys, color):
    x, y = [], []
    for poly in polys:
        px, py = xy(poly)
        x += px + [px[0], None]
        y += py + [py[0], None]
    return go.Scatter(x=x, y=y, mode="lines", fill="toself", fillcolor=color,
                      line=dict(color=COAST, width=0.8, simplify=False), showlegend=False, hoverinfo="skip",
                      xaxis="x", yaxis="y")


fig = go.Figure()

# --- map ---
fig.add_shape(type="rect", xref="x domain", yref="y domain", x0=0, x1=1, y0=0, y1=1, fillcolor=OCEAN, line_width=0, layer="below")
fig.add_trace(polys_trace([north_america, south_america, africa, eurasia, chukotka, antarctica, australia] + islands, LAND))
fig.add_trace(polys_trace(inland_water, OCEAN))
for poly in arctic_lands:
    path = "M " + " L ".join(f"{lon},{lat}" for lon, lat in poly) + " Z"
    fig.add_shape(type="path", path=path, xref="x", yref="y", fillcolor=LAND, layer="above",
                  line=dict(color=COAST, width=0.8))
bx, by = [], []
for line in borders:
    lx, ly = xy(line)
    bx += lx + [None]
    by += ly + [None]
fig.add_trace(go.Scatter(x=bx, y=by, mode="lines", line=dict(color="#d6d8d6", width=0.7), showlegend=False,
                         hoverinfo="skip", xaxis="x", yaxis="y"))
gx, gy = [], []
for lon in lon_ticks[1:-1]:
    gx += [lon, lon, None]
    gy += [-90, 90, None]
for lat in lat_ticks[1:-1]:
    gx += [-180, 180, None]
    gy += [lat, lat, None]
fig.add_trace(go.Scatter(x=gx, y=gy, mode="lines", line=dict(color="rgba(120,120,120,0.18)", width=0.8, dash="dot"),
                         showlegend=False, hoverinfo="skip", xaxis="x", yaxis="y"))
tx, ty = xy(track_points)
fig.add_trace(go.Scatter(x=tx, y=ty, mode="markers", name="Track", marker=dict(color=RED, size=6),
                         xaxis="x", yaxis="y", legend="legend"))
fig.add_trace(go.Scatter(x=[launch_point[0]], y=[launch_point[1]], mode="markers", name="Launch",
                         marker=dict(color="#27ae60", size=17, line=dict(color="black", width=1.4)),
                         xaxis="x", yaxis="y", legend="legend"))
fig.add_trace(go.Scatter(x=[last_fix_point[0]], y=[last_fix_point[1]], mode="markers", name="Last fix",
                         marker=dict(color="#1f77b4", size=19, symbol="star", line=dict(color="black", width=1.4)),
                         xaxis="x", yaxis="y", legend="legend"))

# --- wind ---
bd = days([b[0] for b in wind_band])
fig.add_trace(go.Scatter(x=bd + bd[::-1], y=[b[2] for b in wind_band] + [b[1] for b in wind_band][::-1],
                         mode="lines", fill="toself", fillcolor="rgba(127,140,141,0.35)", line=dict(width=0),
                         name="±1σ propagated error", xaxis="x2", yaxis="y2", legend="legend2"))
wd, wv = xy(wind_points + wind_extra)
fig.add_trace(go.Scatter(x=days(wd), y=wv, mode="markers", name="Wind speed", marker=dict(color=NAVY, size=4.5),
                         xaxis="x2", yaxis="y2", legend="legend2"))
fig.add_trace(go.Scatter(x=days(mean_days), y=wind_mean, mode="lines", name="Daily mean",
                         line=dict(color=RED, width=1.6), xaxis="x2", yaxis="y2", legend="legend2"))

# --- latitude ---
ld, lv = xy(lat_points)
fig.add_trace(go.Scatter(x=days(ld), y=lv, mode="markers", marker=dict(color="black", size=4.6),
                         showlegend=False, xaxis="x3", yaxis="y3"))

# --- altitude ---
ad, av = xy(alt_points + alt_extra)
fig.add_trace(go.Scatter(x=days(ad), y=av, mode="markers", marker=dict(color=GREY, size=4.5),
                         showlegend=False, xaxis="x4", yaxis="y4"))
fig.add_trace(go.Scatter(x=days(mean_days), y=alt_mean, mode="lines", line=dict(color=RED, width=1.6),
                         showlegend=False, xaxis="x4", yaxis="y4"))

# --- histogram ---
centres = [b + 2.5 for b in bin_left]
fig.add_trace(go.Bar(x=centres, y=u_counts, width=5, name="U (zonal)",
                     marker=dict(color="rgba(31,119,180,0.65)", line=dict(color="rgba(0,0,0,0.8)", width=1.2)),
                     xaxis="x5", yaxis="y5", legend="legend3"))
fig.add_trace(go.Bar(x=centres, y=v_counts, width=5, name="V (meridional)",
                     marker=dict(color="rgba(255,127,14,0.65)", line=dict(color="rgba(0,0,0,0.8)", width=1.2)),
                     xaxis="x5", yaxis="y5", legend="legend3"))


def dom_x(c):
    return [COL[c][0] / W, COL[c][1] / W]


def dom_y(r):
    return [1 - ROW[r][1] / H, 1 - ROW[r][0] / H]


def axis(domain, anchor, title=None, **kw):
    base = dict(domain=domain, anchor=anchor, automargin=False, showline=True, mirror=True, linecolor="black", linewidth=1.1,
                ticks="outside", ticklen=5, tickwidth=1, tickcolor="black", zeroline=False,
                showgrid=True, gridcolor=GRID, gridwidth=1,
                tickfont=dict(size=13.5, color="black", family="DejaVu Sans"))
    standoff = kw.pop("standoff", 6)
    if title:
        base["title"] = dict(text=title, font=dict(size=13.5, color="black", family="DejaVu Sans"), standoff=standoff)
    base.update(kw)
    return base


date_kw = dict(type="date", tickmode="array", tickvals=date_ticks, ticktext=date_labels, tickangle=-20,
               ticklabelshift=26)
wide_range = ["2024-05-09 02:00", "2024-06-20 09:00"]
narrow_range = ["2024-05-09 17:30", "2024-06-20 08:30"]
neg = lambda vals: [str(v).replace("-", "−") for v in vals]
hist_ticks = [-100, -75, -50, -25, 0, 25, 50, 75, 100]

fig.update_layout(
    width=W, height=H, margin=dict(l=0, r=0, t=0, b=0), paper_bgcolor="white", plot_bgcolor="white",
    font=dict(family="DejaVu Sans", color="black"), barmode="overlay", hovermode=False,
    xaxis=axis(dom_x(0), "y", "Longitude (deg)", range=[-180, 180], tickmode="array",
               tickvals=lon_ticks, ticktext=neg(lon_ticks), showgrid=False),
    yaxis=axis(dom_y(0), "x", "Latitude (deg)", range=[-90, 90], tickmode="array",
               tickvals=lat_ticks, ticktext=neg(lat_ticks), showgrid=False),
    xaxis2=axis(dom_x(0), "y2", range=wide_range, **date_kw),
    yaxis2=axis(dom_y(1), "x2", "Wind speed (m s<sup>−1</sup>)", range=[0, 81.4], tickmode="array",
                tickvals=list(range(0, 90, 10)), standoff=10),
    xaxis3=axis(dom_x(1), "y3", range=narrow_range, **date_kw),
    yaxis3=axis(dom_y(1), "x3", "Latitude (deg)", range=[-90, 90], tickmode="array",
                tickvals=lat_ticks, ticktext=neg(lat_ticks), standoff=8),
    xaxis4=axis(dom_x(0), "y4", "UTC date", range=wide_range, **date_kw),
    yaxis4=axis(dom_y(2), "x4", "Altitude (m AMSL)", range=[12340, 13248], tickmode="array",
                tickvals=[12400, 12600, 12800, 13000, 13200], ticktext=["12400", "12600", "12800", "13000", "13200"]),
    xaxis5=axis(dom_x(1), "y5", "Wind speed (m s<sup>−1</sup>)", range=[-100, 100], tickmode="array",
                tickvals=hist_ticks, ticktext=neg(hist_ticks), standoff=9),
    yaxis5=axis(dom_y(2), "x5", "Frequency", range=[0, 283], tickmode="array",
                tickvals=[0, 50, 100, 150, 200, 250]),
    legend=dict(x=(COL[0][0] + 5) / W, y=1 - (ROW[0][1] - 5) / H, xanchor="left", yanchor="bottom",
                bgcolor="rgba(255,255,255,0.8)", bordercolor="#cccccc", borderwidth=1,
                font=dict(size=10.5, family="DejaVu Sans"), itemsizing="trace", tracegroupgap=0, itemwidth=30),
    legend2=dict(x=(COL[0][0] + 5) / W, y=1 - (ROW[1][0] + 2) / H, xanchor="left", yanchor="top",
                 bgcolor="rgba(255,255,255,0.8)", bordercolor="#cccccc", borderwidth=1,
                 font=dict(size=10.5, family="DejaVu Sans"), itemwidth=30),
    legend3=dict(x=(COL[1][1] - 9) / W, y=1 - (ROW[2][0] + 5) / H, xanchor="right", yanchor="top",
                 bgcolor="rgba(255,255,255,0.8)", bordercolor="#cccccc", borderwidth=1,
                 font=dict(size=10.5, family="DejaVu Sans"), itemwidth=30),
)

# panel titles
title_pos = [(0, 18.5), (0, 406.5), (1, 406.5), (0, 795), (1, 795)]
annotations = []
for text, (c, py) in zip(panel_titles, title_pos):
    annotations.append(dict(text=text, x=(COL[c][0] + COL[c][1]) / 2 / W, y=1 - py / H, xref="paper", yref="paper",
                            showarrow=False, xanchor="center", yanchor="middle",
                            font=dict(size=16.5, color="black", family="DejaVu Sans")))
for (text, size, color), px_x, py in zip(info_lines, info_x, info_y):
    annotations.append(dict(text=text.replace("   ", "&nbsp;&nbsp;&nbsp;"), x=px_x / W, y=1 - py / H, xref="paper", yref="paper",
                            showarrow=False, xanchor="center", yanchor="middle",
                            font=dict(size=size, color=color, family="DejaVu Sans")))
fig.update_layout(annotations=annotations)

fig.write_html("out.html", post_script="document.body.style.margin='0';document.documentElement.style.overflow='hidden';",
               config={"displayModeBar": False})
